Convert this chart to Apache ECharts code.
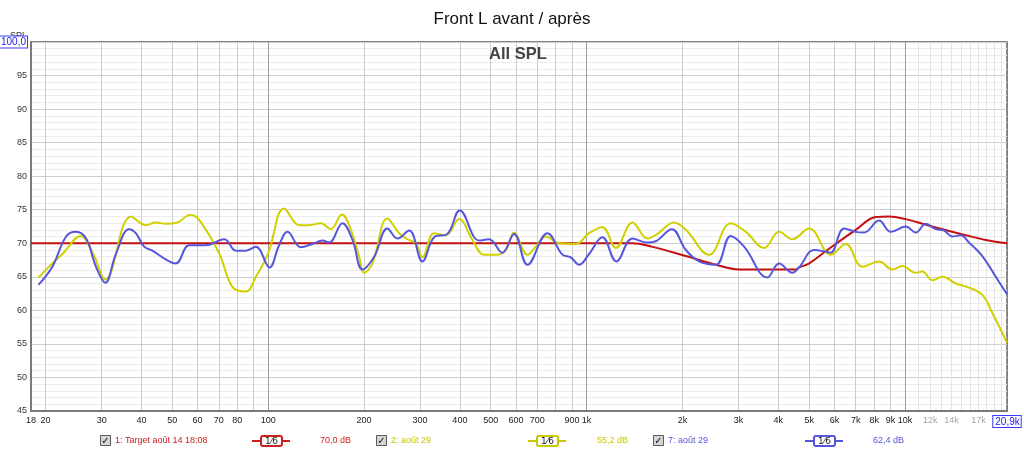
<!DOCTYPE html>
<html>
<head>
<meta charset="utf-8">
<script src="https://cdn.jsdelivr.net/npm/echarts@6/dist/echarts.min.js"></script>
<style>
html,body{margin:0;padding:0;background:#fff;}
#c{width:1024px;height:452px;}
</style>
</head>
<body>
<div id="c"></div>
<script>
// ---- data ----
var targetFreq = [18, 1389, 1600, 2049, 2545, 3013, 4541, 4648, 5000, 5700, 7001, 8091, 8908, 10050, 12150, 15510, 17920, 20900];
var targetDb   = [70.0, 70.0, 69.5, 68.1, 66.8, 66.1, 66.1, 66.4, 67.0, 69.0, 72.0, 73.9, 74.0, 73.6, 72.5, 71.2, 70.5, 70.0];

var yellowFreq = [19.0, 21.0, 22.6, 25.8, 28.3, 30.8, 37.1, 41.3, 44.4, 47.7, 51.9, 56.8, 60.7, 70.2, 77.2, 85.1, 91.5, 100, 112.3, 125.1, 134.5, 146.4, 157.3, 170.4, 181.9, 193.1, 200.2, 212.6, 236.9, 257.8, 273.8, 290.9, 305.1, 332, 361.4, 397.8, 437.9, 476.5, 524.8, 557.5, 592, 652, 692.5, 744.7, 820, 925, 1018, 1121, 1235, 1393, 1552, 1669, 1882, 2049, 2424, 2837, 3161, 3609, 4022, 4429, 4995, 5850, 6515, 7341, 8288, 9123, 9806, 10804, 11331, 12180, 13096, 14428, 15882, 17487, 18800, 20900];
var yellowDb   = [64.9, 67.0, 68.4, 71.1, 68.3, 64.6, 74.0, 72.7, 73.1, 72.9, 73.1, 74.2, 73.5, 68.5, 63.5, 62.8, 65.0, 68.5, 75.2, 72.7, 72.7, 73.0, 72.1, 74.3, 72.0, 68.0, 65.6, 67.0, 73.7, 71.5, 70.6, 70.0, 67.9, 71.5, 71.2, 73.6, 70.5, 68.3, 68.3, 69.0, 71.6, 68.3, 69.5, 71.0, 70.0, 69.9, 71.5, 72.4, 69.3, 73.1, 70.7, 71.4, 73.1, 72.0, 68.3, 73.0, 71.7, 69.3, 71.7, 70.6, 72.2, 68.3, 69.9, 66.5, 67.3, 66.1, 66.6, 65.6, 65.8, 64.5, 65.0, 64.0, 63.4, 62.3, 59.6, 55.2];

var blueFreq = [19.0, 21.0, 23.2, 24.9, 26.8, 28.8, 30.8, 33.2, 36.6, 38.4, 40.8, 43.3, 47.7, 51.3, 56.5, 63.7, 72.8, 79.2, 85.1, 91.5, 101, 108, 115, 126.7, 137.8, 148.1, 155.4, 171.1, 184, 197.8, 215.2, 236.9, 254.7, 277.2, 305.1, 332, 365.6, 399.8, 459.6, 494.1, 543.9, 592, 652, 753.3, 839.5, 892, 947.3, 1018, 1121, 1240, 1393, 1552, 1650, 1851, 2049, 2256, 2545, 2837, 3123, 3696, 4022, 4429, 4648, 5180, 5704, 5846, 6436, 7001, 7433, 8288, 9018, 10050, 10804, 11614, 12484, 13256, 14077, 14958, 15882, 17487, 19270, 20900];
var blueDb   = [63.8, 66.5, 71.0, 71.7, 70.7, 66.5, 64.1, 68.3, 72.1, 71.5, 69.5, 68.9, 67.6, 67.0, 69.7, 69.7, 70.6, 68.9, 68.9, 69.5, 66.4, 69.6, 71.7, 69.4, 69.9, 70.4, 70.1, 73.0, 70.5, 66.1, 68.0, 72.2, 70.7, 71.9, 67.3, 70.9, 71.4, 74.9, 70.4, 70.6, 68.6, 71.4, 66.8, 71.5, 68.3, 67.9, 66.8, 68.4, 70.9, 67.3, 70.7, 70.1, 70.3, 72.1, 69.0, 67.3, 66.8, 71.1, 69.5, 64.9, 67.0, 65.6, 66.4, 69.0, 68.7, 68.6, 72.2, 71.7, 71.6, 73.4, 71.7, 72.5, 71.6, 72.9, 72.1, 71.9, 71.0, 71.2, 70.1, 68.1, 65.0, 62.4];

var xLabelValues = [18, 20, 30, 40, 50, 60, 70, 80, 100, 200, 300, 400, 500, 600, 700, 900, 1000, 2000, 3000, 4000, 5000, 6000, 7000, 8000, 9000, 10000, 12000, 14000, 17000, 20900];
var xLabelTexts  = ['18', '20', '30', '40', '50', '60', '70', '80', '100', '200', '300', '400', '500', '600', '700', '900', '1k', '2k', '3k', '4k', '5k', '6k', '7k', '8k', '9k', '10k', '{g|12k}', '{g|14k}', '{g|17k}', '{b|20,9k}'];

var gridMajorX = [100, 1000, 10000];
var gridMinorX = [20, 30, 40, 50, 60, 70, 80, 90, 200, 300, 400, 500, 600, 700, 800, 900, 2000, 3000, 4000, 5000, 6000, 7000, 8000, 9000];
var gridFineX  = [11000, 12000, 13000, 14000, 15000, 16000, 17000, 18000, 19000, 20000];

var legendNames  = ['1: Target août 14 18:08', '2: août 29', '7: août 29'];
var legendValues = ['70,0 dB', '55,2 dB', '62,4 dB'];

var RED = '#c41010', YEL = '#d0d000', BLU = '#5656dc';
var FONT = 'Liberation Sans';

function zip(a, b) { var o = []; for (var i = 0; i < a.length; i++) o.push([a[i], b[i]]); return o; }

function gridAxis(values, color) {
  return {
    type: 'log', logBase: 10, min: 18, max: 20900,
    axisLine: { show: false },
    axisLabel: { show: false },
    axisTick: { show: true, length: 0, customValues: values, lineStyle: { color: 'rgba(0,0,0,0)', width: 0 } },
    splitLine: { show: true, lineStyle: { color: color, width: 1 } },
    minorTick: { show: false }, minorSplitLine: { show: false }
  };
}

function legendItem(x0, lineX, valX, name, val, color) {
  var y = 441;
  return [
    { type: 'rect', shape: { x: x0 + 0.5, y: y - 5.5, width: 10, height: 10 }, style: { fill: '#d6d6d6', stroke: '#5a5a5a', lineWidth: 1 } },
    { type: 'text', style: { x: x0 + 5.5, y: y, text: '✓', font: 'bold 10px "DejaVu Sans"', fill: '#111', align: 'center', verticalAlign: 'middle' } },
    { type: 'text', style: { x: x0 + 15, y: y, text: name, font: '9px "' + FONT + '"', fill: color, verticalAlign: 'middle' } },
    { type: 'line', shape: { x1: lineX, y1: y, x2: lineX + 38, y2: y }, style: { stroke: color, lineWidth: 2 } },
    { type: 'rect', shape: { x: lineX + 9, y: y - 5, width: 21, height: 10, r: 2 }, style: { fill: '#fff', stroke: color, lineWidth: 2 } },
    { type: 'text', style: { x: lineX + 19.5, y: y + 0.5, text: '1⁄6', font: '9px "DejaVu Sans"', fill: '#222', align: 'center', verticalAlign: 'middle' } },
    { type: 'text', style: { x: valX, y: y, text: val, font: '9px "' + FONT + '"', fill: color, verticalAlign: 'middle' } }
  ];
}

var graphics = [
  { type: 'text', style: { x: 518, y: 54, text: 'All SPL', font: 'bold 16.5px "' + FONT + '"', fill: '#444', align: 'center', verticalAlign: 'middle' }, z: 10 },
  { type: 'text', style: { x: 10, y: 31, text: 'SPL', font: '9px "' + FONT + '"', fill: '#333' }, z: 0 }
].concat(legendItem(100, 252, 320, legendNames[0], legendValues[0], '#cc2020'))
 .concat(legendItem(376, 528, 597, legendNames[1], legendValues[1], '#c8c800'))
 .concat(legendItem(653, 805, 873, legendNames[2], legendValues[2], BLU));

var chart = echarts.init(document.getElementById('c'), null, { renderer: 'canvas' });

chart.setOption({
  animation: false,
  backgroundColor: '#fff',
  title: { text: 'Front L avant / après', left: 'center', top: 6, textStyle: { fontFamily: FONT, fontSize: 17, fontWeight: 'normal', color: '#111' } },
  grid: { left: 31, right: 17, top: 42, bottom: 41, outerBoundsMode: 'none', show: true, borderColor: '#5e5e5e', borderWidth: 1.5, backgroundColor: '#fff' },
  xAxis: [
    {
      type: 'log', logBase: 10, min: 18, max: 20900,
      axisLine: { show: true, onZero: false, lineStyle: { color: '#7a7a7a', width: 2 } },
      axisTick: { show: true, length: 0, customValues: gridMajorX, lineStyle: { color: 'rgba(0,0,0,0)', width: 0 } },
      splitLine: { show: true, lineStyle: { color: '#9c9c9c', width: 1 } },
      minorTick: { show: false },
      minorSplitLine: { show: false },
      axisLabel: {
        customValues: xLabelValues,
        showMinLabel: true, showMaxLabel: true, hideOverlap: false,
        color: '#1a1a1a', fontFamily: FONT, fontSize: 9, margin: 5,
        formatter: function (v) {
          var best = -1, bd = 1e9;
          for (var i = 0; i < xLabelValues.length; i++) {
            var d = Math.abs(Math.log(xLabelValues[i]) - Math.log(v));
            if (d < bd) { bd = d; best = i; }
          }
          return best >= 0 ? xLabelTexts[best] : '';
        },
        rich: {
          g: { color: '#a8a8a8', fontFamily: FONT, fontSize: 9 },
          b: { color: '#2222e8', fontFamily: FONT, fontSize: 10, borderColor: '#3a3aff', borderWidth: 1, backgroundColor: '#fff', padding: [1, 1, 0, 2] }
        }
      }
    },
    gridAxis(gridMinorX, '#cccccc'),
    gridAxis(gridFineX, '#e4e4e4')
  ],
  yAxis: {
    type: 'value', min: 45, max: 100, interval: 5,
    axisLine: { show: true, lineStyle: { color: '#7a7a7a', width: 2 } },
    axisTick: { show: false },
    splitLine: { show: true, lineStyle: { color: '#cdcdcd', width: 1 } },
    minorTick: { show: false, splitNumber: 5 },
    minorSplitLine: { show: true, lineStyle: { color: '#ececec', width: 1 } },
    axisLabel: {
      color: '#333', fontFamily: FONT, fontSize: 9, margin: 4,
      formatter: function (v) { return v === 100 ? '{b|100,0}' : String(v); },
      rich: { b: { color: '#2222e8', fontFamily: FONT, fontSize: 10, borderColor: '#3a3aff', borderWidth: 1, backgroundColor: '#fff', padding: [1, 1, 0, 2] } }
    }
  },
  graphic: graphics,
  series: [
    { name: 'target', type: 'line', xAxisIndex: 0, data: zip(targetFreq, targetDb), smooth: 0.4, showSymbol: false, lineStyle: { color: RED, width: 2 }, z: 3 },
    { name: 'yellow', type: 'line', xAxisIndex: 0, data: zip(yellowFreq, yellowDb), smooth: 0.4, showSymbol: false, lineStyle: { color: YEL, width: 2 }, z: 4 },
    { name: 'blue', type: 'line', xAxisIndex: 0, data: zip(blueFreq, blueDb), smooth: 0.4, showSymbol: false, lineStyle: { color: BLU, width: 2 }, z: 5 }
  ]
});
</script>
</body>
</html>
